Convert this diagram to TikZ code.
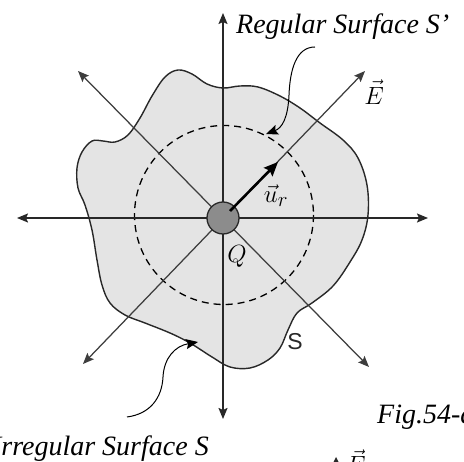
\documentclass[tikz,border=0pt]{standalone}
\usepackage{fontspec}
\setmainfont{Liberation Serif}
\newfontfamily\sfont{Liberation Sans}
\usetikzlibrary{arrows.meta}
\definecolor{blobfill}{RGB}{228,228,228}
\definecolor{linedark}{RGB}{40,40,40}
\definecolor{chargefill}{RGB}{140,140,140}
\tikzset{
  axis/.style={line width=1.6pt, draw=linedark, {Stealth[length=11pt,width=9pt,inset=2pt]}-{Stealth[length=11pt,width=9pt,inset=2pt]}},
  diag/.style={line width=1.25pt, draw=linedark!90, {Stealth[length=11pt,width=9pt,inset=2pt]}-{Stealth[length=11pt,width=9pt,inset=2pt]}},
  pointer/.style={line width=1pt, -{Stealth[length=12pt,width=10pt,inset=2pt]}},
  lbl/.style={font=\fontsize{28}{32}\selectfont\itshape, inner sep=0pt},
  mlbl/.style={font=\fontsize{30}{34}\selectfont, inner sep=0pt},
}
\begin{document}
\begin{tikzpicture}[x=1pt,y=-1pt]
\useasboundingbox (0,0) rectangle (464,462);
\clip (0,0) rectangle (464,462);
% irregular surface
\draw[fill=blobfill, draw=linedark, line width=1.4pt] plot[smooth cycle, tension=0.6] coordinates {
 (82,152) (92,141) (103,141) (115,142) (128,135) (140,118) (152,96) (165,77) (178,70)
 (192,74) (207,84) (223,88) (240,86) (258,87) (280,96) (300,108) (320,123) (343,140)
 (358,158) (367,185) (368,215) (362,240) (350,262) (333,286) (312,303) (297,313)
 (288,330) (280,348) (268,360) (250,368) (230,367) (212,357) (190,343) (170,333)
 (145,323) (125,315) (110,303) (102,285) (97,260) (92,230) (85,205) (78,188) (77,168)};
% regular surface
\draw[dashed, dash pattern=on 7pt off 5pt, line width=1.3pt] (224,215) circle (89.5);
% named coordinates
\coordinate (C) at (223,218);
\coordinate (L) at (17,218);
\coordinate (R) at (428,218);
\coordinate (T) at (223,13);
\coordinate (B) at (223,419);
\coordinate (NE) at (365,71);
\coordinate (NW) at (78,71);
\coordinate (SW) at (83,364);
\coordinate (SE) at (369,367);
% field lines
\draw[diag] (SW) -- (NE);
\draw[diag] (NW) -- (SE);
\draw[axis] (L) -- (R);
\draw[axis] (B) -- (T);
% charge
\node[circle, minimum size=32pt, inner sep=0pt, fill=chargefill, draw=linedark, line width=1.3pt] (Q) at (C) {};
\coordinate (ur0) at (230,211);
\coordinate (ur1) at (278,162);
\draw[line width=2.6pt, -{Stealth[length=14pt,width=12pt,inset=2pt]}] (ur0) -- (ur1);
% labels
\node[mlbl] (Elbl) at (374,92) {$\vec{E}$};
\node[mlbl] (urlbl) at (276,196) {$\vec{u}_r$};
\node[mlbl, font=\fontsize{27}{30}\selectfont] (Qlbl) at (237,256) {$Q$};
\node[inner sep=0pt, font=\sfont\fontsize{23}{26}\selectfont, text=linedark] (Slbl) at (295,342) {S};
\node[lbl, anchor=base west] (reg) at (236,34) {Regular Surface S’};
\node[lbl, anchor=base east] (irr) at (209,456) {Irregular Surface S};
\node[lbl, anchor=base west] (fig) at (377,424) {Fig.54-a};
\node[mlbl, anchor=base west] (E2) at (346,474) {$\vec{E}$};
\coordinate (tri) at (336,457);
\fill[linedark] (tri) -- ++(-4,8) -- ++(8,0) -- cycle;
% pointers
\coordinate (p1s) at (315,47);
\coordinate (p1e) at (266,134);
\draw[pointer] (p1s) .. controls (296,47) and (290,70) .. (289,95) .. controls (288,118) and (282,128) .. (p1e);
\coordinate (p2s) at (127,417);
\coordinate (p2e) at (198,342);
\draw[pointer] (p2s) .. controls (150,414) and (162,398) .. (163,377) .. controls (164,358) and (175,346) .. (p2e);
\end{tikzpicture}
\end{document}
